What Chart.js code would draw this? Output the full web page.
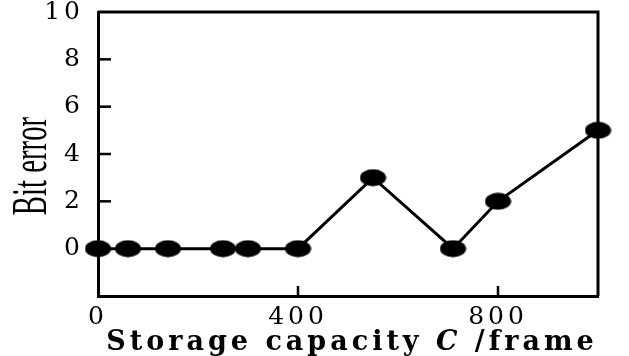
<!DOCTYPE html>
<html>
<head>
<meta charset="utf-8">
<script src="https://cdn.jsdelivr.net/npm/chart.js@4/dist/chart.umd.min.js"></script>
<style>
  html, body { margin: 0; padding: 0; background: #fff; }
  #wrap { width: 629px; height: 356px; }
</style>
</head>
<body>
<div id="wrap"><canvas id="grafico"></canvas></div>
<script>
// --- dados ---
const capacity = [0, 60, 140, 250, 300, 400, 550, 710, 800, 1000];
const bitError = [0, 0, 0, 0, 0, 0, 3, 0, 2, 5];
const xTicks = [0, 400, 800];
const yTicks = [0, 2, 4, 6, 8, 10];
const xTitle = ['Storage capacity ', 'C', ' /frame'];
const yTitle = 'Bit error';

// marcador eliptico (mais largo que alto)
function marcador() {
    const c = document.createElement('canvas');
    c.width = 27; c.height = 18;
    const g = c.getContext('2d');
    g.fillStyle = '#000';
    g.beginPath();
    g.ellipse(13.5, 9, 13, 8.5, 0, 0, Math.PI * 2);
    g.fill();
    return c;
}

// bordas de cima/direita, ticks internos e titulos
const moldura = {
    id: 'moldura',
    beforeDraw(chart) {
        chart.ctx.letterSpacing = '4px';
    },
    beforeDatasetsDraw(chart) {
        const { ctx, chartArea: a, scales } = chart;
        ctx.save();
        ctx.letterSpacing = '0px';
        ctx.strokeStyle = '#000';
        ctx.lineWidth = 3;
        ctx.beginPath();
        ctx.moveTo(a.left, a.top);
        ctx.lineTo(a.right, a.top);
        ctx.lineTo(a.right, a.bottom);
        ctx.stroke();
        ctx.lineWidth = 2.5;
        yTicks.filter(v => v > 0 && v < 10).forEach(v => {
            const y = scales.y.getPixelForValue(v);
            ctx.beginPath();
            ctx.moveTo(a.left, y);
            ctx.lineTo(a.left + 13, y);
            ctx.stroke();
        });
        xTicks.filter(v => v > 0).forEach(v => {
            const x = scales.x.getPixelForValue(v);
            ctx.beginPath();
            ctx.moveTo(x, a.bottom);
            ctx.lineTo(x, a.bottom - 10);
            ctx.stroke();
        });
        ctx.restore();
    },
    afterDraw(chart) {
        const { ctx, chartArea: a } = chart;
        ctx.save();
        ctx.fillStyle = '#000';
        ctx.textBaseline = 'alphabetic';
        ctx.textAlign = 'left';
        ctx.letterSpacing = '4px';
        const fontes = ['bold 27px "DejaVu Serif"', 'italic bold 27px "DejaVu Serif"', 'bold 27px "DejaVu Serif"'];
        let total = 0;
        const larguras = xTitle.map((t, i) => { ctx.font = fontes[i]; const w = ctx.measureText(t).width; total += w; return w; });
        let x = 352 - total / 2;
        xTitle.forEach((t, i) => { ctx.font = fontes[i]; ctx.fillText(t, x, 350); x += larguras[i]; });

        // titulo Y comprimido
        ctx.letterSpacing = '0px';
        ctx.translate(33, 166);
        ctx.rotate(-Math.PI / 2);
        ctx.scale(1.2, 2.1);
        ctx.font = '24px "Liberation Serif"';
        ctx.textAlign = 'center';
        ctx.textBaseline = 'middle';
        ctx.fillText(yTitle, 0, 0);
        ctx.restore();
        ctx.letterSpacing = '0px';
    }
};

const ponto = marcador();

new Chart(document.getElementById('grafico'), {
    type: 'line',
    data: {
        datasets: [{
            data: capacity.map((c, i) => ({ x: c, y: bitError[i] })),
            borderColor: '#000',
            borderWidth: 3,
            pointStyle: ponto,
            clip: false,
            tension: 0
        }]
    },
    options: {
        responsive: true,
        maintainAspectRatio: false,
        animation: false,
        layout: { padding: { top: 12, right: 31, left: 0, bottom: 0 } },
        plugins: { legend: { display: false }, tooltip: { enabled: false } },
        scales: {
            x: {
                type: 'linear',
                min: 0,
                max: 1000,
                afterBuildTicks: s => { s.ticks = xTicks.map(v => ({ value: v })); },
                afterFit: s => { s.height = 60; s.paddingLeft = 0; s.paddingRight = 0; },
                grid: { drawOnChartArea: false, drawTicks: false },
                border: { display: true, width: 3, color: '#000' },
                ticks: { color: '#000', padding: 6, font: { family: 'DejaVu Serif', size: 25 }, maxRotation: 0 }
            },
            y: {
                min: -2,
                max: 10,
                afterBuildTicks: s => { s.ticks = yTicks.map(v => ({ value: v })); },
                afterFit: s => { s.width = 98; s.paddingTop = 0; s.paddingBottom = 0; },
                grid: { drawOnChartArea: false, drawTicks: false },
                border: { display: true, width: 3, color: '#000' },
                ticks: { color: '#000', padding: 14, font: { family: 'DejaVu Serif', size: 25 } }
            }
        }
    },
    plugins: [moldura]
});
</script>
</body>
</html>
